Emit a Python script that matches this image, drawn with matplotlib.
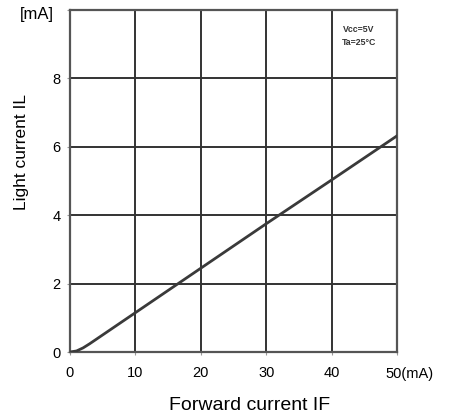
import matplotlib
matplotlib.use('Agg')
import matplotlib.pyplot as plt

plt.rcParams['font.family'] = ['Liberation Sans', 'DejaVu Sans']

# forward current IF (mA) vs light current IL (mA)
forward_current = [0, 1, 2, 3, 4, 10, 20, 30, 40, 50]
light_current = [0, 0.03, 0.12, 0.24, 0.37, 1.15, 2.45, 3.75, 5.03, 6.32]

x_ticks = [0, 10, 20, 30, 40, 50]
x_tick_labels = ['0', '10', '20', '30', '40', '']
y_ticks = [0, 2, 4, 6, 8, 10]
y_tick_labels = ['0', '2', '4', '6', '8', '']

W, H = 453, 420
fig = plt.figure(figsize=(W / 100, H / 100), dpi=100)
ax = fig.add_axes([70 / W, 68 / H, 327 / W, 342 / H])

ax.plot(forward_current, light_current, color='#3a3a3a', linewidth=2.0, zorder=3)

ax.set_xlim(0, 50)
ax.set_ylim(0, 10)
ax.set_xticks(x_ticks)
ax.set_xticklabels(x_tick_labels)
ax.set_yticks(y_ticks)
ax.set_yticklabels(y_tick_labels)
ax.tick_params(axis='both', labelsize=10.5, length=2, width=0.8, color='#999999')
ax.tick_params(axis='y', pad=5)
ax.tick_params(axis='x', pad=8)

ax.grid(True, color='#333333', linewidth=1.4)
for s in ax.spines.values():
    s.set_color('#555555')
    s.set_linewidth(1.6)

# last x label carries the unit
ax.annotate('50(mA)', xy=(50, 0), xycoords='data', xytext=(-12, -22),
            textcoords='offset pixels', fontsize=10.5, ha='left', va='center')
fig.text(36.5 / W, 1 - 15 / H, '[mA]', fontsize=12, ha='center', va='center')
fig.text(359 / W, 1 - 36 / H, 'Vcc=5V\nTa=25\u00b0C', fontsize=6.3,
         ha='center', va='center', fontweight='bold', color='#333333', linespacing=1.45)

fig.text(22 / W, 1 - 152 / H, 'Light current IL', fontsize=12.5, rotation=90,
         ha='center', va='center')
fig.text(250 / W, 1 - 405 / H, 'Forward current IF', fontsize=14,
         ha='center', va='center')

fig.savefig('out.png', dpi=100)
